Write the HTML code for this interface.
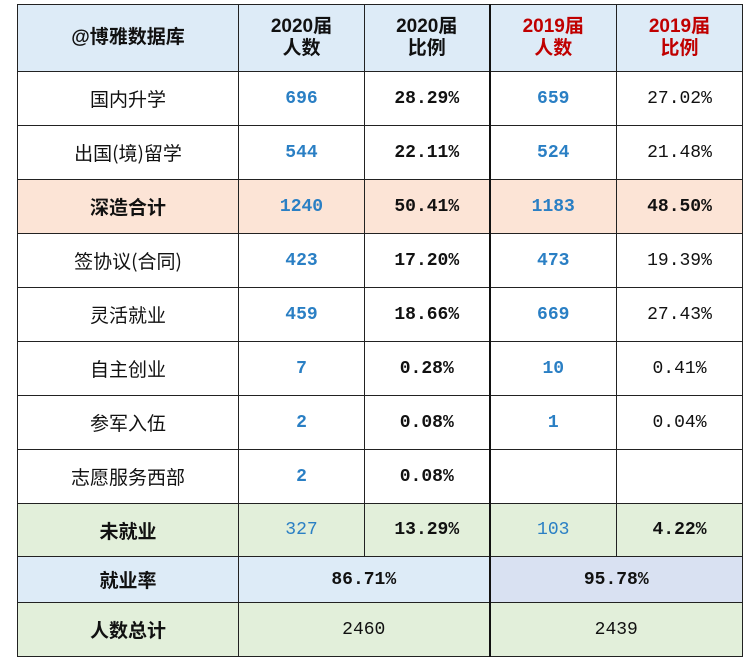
<!DOCTYPE html>
<html><head><meta charset="utf-8"><style>
html,body{margin:0;padding:0;background:#fff;width:754px;height:661px;overflow:hidden}
table{position:absolute;left:17px;top:4px;border-collapse:collapse;table-layout:fixed;width:725px}
td{border:1px solid #222;text-align:center;padding:0;font-family:"Liberation Mono","Noto Sans CJK SC",monospace;font-size:18px;color:#111}
.cn{font-family:"Noto Sans CJK SC","WenQuanYi Zen Hei",sans-serif;font-size:19px}
.b{font-weight:bold}
.bl{color:#2a7fc4;font-weight:bold}
.r{color:#c00000}
.h td{background:#ddebf7;font-weight:bold;font-family:"Liberation Sans","Noto Sans CJK SC",sans-serif;font-size:19px;line-height:22px}
.sz td{background:#fce4d6}
.g td{background:#e2efda}
.thick{border-right:2px solid #111}
</style></head><body>
<table>
<colgroup><col style="width:221px"><col style="width:126px"><col style="width:125px"><col style="width:127px"><col style="width:126px"></colgroup>
<tr class="h" style="height:67px"><td class="cn b">@博雅数据库</td><td>2020届<br>人数</td><td class="thick">2020届<br>比例</td><td class="r">2019届<br>人数</td><td class="r">2019届<br>比例</td></tr>
<tr style="height:54px"><td class="cn">国内升学</td><td class="bl">696</td><td class="b thick">28.29%</td><td class="bl">659</td><td>27.02%</td></tr>
<tr style="height:54px"><td class="cn">出国(境)留学</td><td class="bl">544</td><td class="b thick">22.11%</td><td class="bl">524</td><td>21.48%</td></tr>
<tr class="sz" style="height:54px"><td class="cn b">深造合计</td><td class="bl">1240</td><td class="b thick">50.41%</td><td class="bl">1183</td><td class="b">48.50%</td></tr>
<tr style="height:54px"><td class="cn">签协议(合同)</td><td class="bl">423</td><td class="b thick">17.20%</td><td class="bl">473</td><td>19.39%</td></tr>
<tr style="height:54px"><td class="cn">灵活就业</td><td class="bl">459</td><td class="b thick">18.66%</td><td class="bl">669</td><td>27.43%</td></tr>
<tr style="height:54px"><td class="cn">自主创业</td><td class="bl">7</td><td class="b thick">0.28%</td><td class="bl">10</td><td>0.41%</td></tr>
<tr style="height:54px"><td class="cn">参军入伍</td><td class="bl">2</td><td class="b thick">0.08%</td><td class="bl">1</td><td>0.04%</td></tr>
<tr style="height:54px"><td class="cn">志愿服务西部</td><td class="bl">2</td><td class="b thick">0.08%</td><td></td><td></td></tr>
<tr class="g" style="height:53px"><td class="cn b">未就业</td><td class="bl" style="font-weight:normal">327</td><td class="b thick">13.29%</td><td class="bl" style="font-weight:normal">103</td><td class="b">4.22%</td></tr>
<tr style="height:46px"><td class="cn b" style="background:#ddebf7">就业率</td><td colspan="2" class="b thick" style="background:#ddebf7">86.71%</td><td colspan="2" class="b" style="background:#d9e1f2">95.78%</td></tr>
<tr class="g" style="height:54px"><td class="cn b">人数总计</td><td colspan="2" class="thick">2460</td><td colspan="2">2439</td></tr>
</table>
</body></html>
